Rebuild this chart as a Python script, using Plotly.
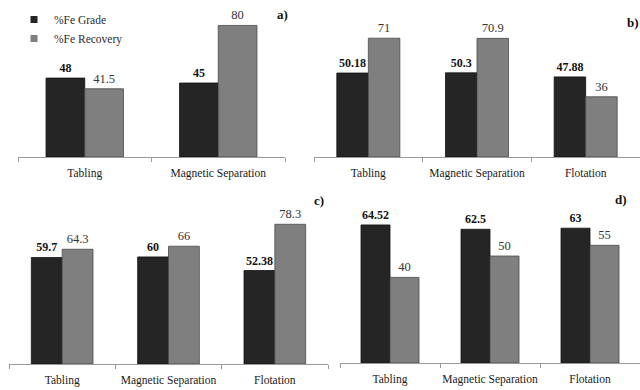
import plotly.graph_objects as go

# ---- data ----
cats_a = ["Tabling", "Magnetic Separation"]
grade_a = [48, 45]
recov_a = [41.5, 80]

cats_b = ["Tabling", "Magnetic Separation", "Flotation"]
grade_b = [50.18, 50.3, 47.88]
recov_b = [71, 70.9, 36]

cats_c = ["Tabling", "Magnetic Separation", "Flotation"]
grade_c = [59.7, 60, 52.38]
recov_c = [64.3, 66, 78.3]

cats_d = ["Tabling", "Magnetic Separation", "Flotation"]
grade_d = [64.52, 62.5, 63]
recov_d = [40, 50, 55]

panel_tags = ["a)", "b)", "c)", "d)"]
series_names = ["%Fe Grade", "%Fe Recovery"]

# ---- style / layout ----
W, H = 640, 390
DARK = "#252525"
GRAY = "#7f7f7f"
SERIF = "Liberation Serif"

# panel geometry in pixels: x0, x1, axis_y, top_y, ymax
geo = [
    (18, 285, 157, 9, 90),
    (314, 640, 157, 6.4, 90),
    (9, 328, 364, 203.4, 90),
    (340, 640, 363, 202.5, 75),
]
tag_pos = [(282, 15), (633, 22), (319, 201), (621, 199)]

panels = [
    (cats_a, grade_a, recov_a),
    (cats_b, grade_b, recov_b),
    (cats_c, grade_c, recov_c),
    (cats_d, grade_d, recov_d),
]

fig = go.Figure()
layout = {}
for i, ((cats, g, r), (x0, x1, ay, ty, ymax)) in enumerate(zip(panels, geo)):
    n = "" if i == 0 else str(i + 1)
    xa, ya = "x" + n, "y" + n
    fig.add_trace(go.Bar(
        x=cats, y=g, name=series_names[0], xaxis=xa, yaxis=ya,
        marker=dict(color=DARK, line=dict(color="#111111", width=0.8)),
        texttemplate="<b>%{y}</b>", textposition="outside",
        textfont=dict(family=SERIF, size=12, color="#111111"),
        cliponaxis=False, constraintext="none", showlegend=False,
    ))
    fig.add_trace(go.Bar(
        x=cats, y=r, name=series_names[1], xaxis=xa, yaxis=ya,
        marker=dict(color=GRAY, line=dict(color="#4a4a4a", width=0.8)),
        texttemplate="%{y}", textposition="outside",
        textfont=dict(family=SERIF, size=12.5, color="#333333"),
        cliponaxis=False, constraintext="none", showlegend=False,
    ))
    layout["xaxis" + n] = dict(
        domain=[x0 / W, x1 / W], anchor=ya, type="category",
        showline=True, linecolor="#9a9a9a", linewidth=1,
        ticks="outside", tickson="boundaries", ticklen=4, tickcolor="#9a9a9a",
        showgrid=False, tickfont=dict(family=SERIF, size=11.5, color="#1a1a1a"),
        ticklabelstandoff=5, tickangle=0, automargin=False, fixedrange=True,
    )
    layout["yaxis" + n] = dict(
        domain=[1 - ay / H, 1 - ty / H], anchor=xa, range=[0, ymax],
        visible=False, automargin=False, fixedrange=True,
    )

# legend entries
for name, col in zip(series_names, [DARK, GRAY]):
    fig.add_trace(go.Scatter(
        x=[None], y=[None], mode="markers", name=name,
        marker=dict(symbol="square", size=7, color=col),
        xaxis="x", yaxis="y",
    ))

annotations = []
for tag, (tx, tyy) in zip(panel_tags, tag_pos):
    annotations.append(dict(
        text="<b>%s</b>" % tag, x=tx / W, y=1 - tyy / H, xref="paper", yref="paper",
        showarrow=False, font=dict(family=SERIF, size=13, color="#111111"),
        xanchor="center", yanchor="middle",
    ))

fig.update_layout(
    template="none",
    width=W, height=H, margin=dict(l=0, r=0, t=0, b=0, autoexpand=False),
    paper_bgcolor="white", plot_bgcolor="white",
    barmode="group", bargap=0.42, bargroupgap=0,
    showlegend=True,
    legend=dict(x=14 / W, y=1 - 5 / H, xanchor="left", yanchor="top",
                bgcolor="rgba(0,0,0,0)", borderwidth=0,
                font=dict(family=SERIF, size=11.5, color="#2a2a2a"),
                itemwidth=30, tracegroupgap=0),
    annotations=annotations,
    **layout,
)

fig.write_html("out.html", config={"displayModeBar": False, "staticPlot": True},
               post_script="document.body.style.margin='0';document.body.style.overflow='hidden';")
